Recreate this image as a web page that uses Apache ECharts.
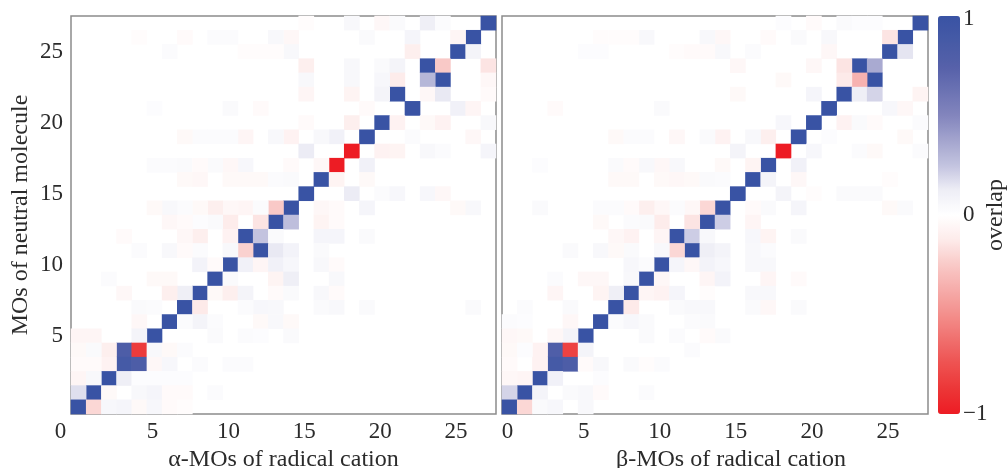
<!DOCTYPE html>
<html>
<head>
<meta charset="utf-8">
<style>
    html, body { margin: 0; padding: 0; background: #fff; }
    #chart { width: 1008px; height: 468px; }
</style>
<script src="https://cdn.jsdelivr.net/npm/echarts@6/dist/echarts.min.js"></script>
</head>
<body>
<div id="chart"></div>
<script>
    // MO index, same for both axes
    const moIndex = ['0','1','2','3','4','5','6','7','8','9','10','11','12','13','14','15','16','17','18','19','20','21','22','23','24','25','26','27']

    // [x, y, overlap], cells that are not listed read as white
    const alphaCells = [
        [27,27,1],[23,27,.12],[24,27,.03],[18,27,.05],[20,27,-.05],[21,27,.04],[15,27,-.02],
        [26,26,1],[25,26,-.06],[22,26,.07],[19,26,.04],[14,26,-.05],[13,26,.05],[9,26,.03],[10,26,.03],[7,26,-.03],[4,26,-.02],
        [25,25,1],[26,25,.08],[22,25,-.1],[14,25,.05],[13,25,-.02],[12,25,-.02],[11,25,-.02],[6,25,.03],
        [23,24,1],[24,24,-.25],[27,24,-.15],[15,24,-.1],[18,24,.05],[20,24,.04],[21,24,.08],
        [24,23,1],[23,23,.3],[21,23,-.12],[20,23,.06],[18,23,.05],[15,23,.05],[27,23,-.05],
        [21,22,1],[20,22,.08],[23,22,-.05],[24,22,.14],[18,22,-.07],[15,22,-.06],[27,22,-.03],
        [22,21,1],[25,21,.1],[26,21,-.06],[19,21,-.03],[12,21,-.03],[10,21,.04],[5,21,.02],
        [20,20,1],[21,20,-.08],[18,20,-.1],[23,20,-.04],[24,20,-.08],[27,20,.05],[15,20,-.03],
        [19,19,1],[17,19,.1],[16,19,.05],[14,19,-.08],[13,19,.05],[11,19,-.06],[10,19,.03],[9,19,.03],[8,19,.03],[7,19,-.04],[22,19,.03],[26,19,-.05],
        [18,18,-1],[15,18,.13],[20,18,-.08],[21,18,-.07],[23,18,.05],[24,18,.03],[27,18,.07],
        [17,17,-1],[16,17,-.05],[19,17,.1],[11,17,.06],[10,17,-.05],[9,17,.04],[7,17,.04],[8,17,-.03],[5,17,.03],[6,17,.03],[14,17,-.03],
        [16,16,1],[17,16,-.07],[19,16,-.04],[7,16,-.04],[8,16,-.05],[10,16,-.04],[11,16,-.04],[12,16,-.04],[13,16,.03],[14,16,.04],
        [15,15,1],[18,15,.13],[20,15,.03],[21,15,.06],[23,15,.06],[24,15,-.05],
        [14,14,1],[13,14,-.25],[11,14,-.06],[12,14,.03],[10,14,-.05],[9,14,-.1],[8,14,-.04],[7,14,.03],[6,14,.05],[5,14,-.04],[16,14,-.05],[17,14,-.03],[19,14,.07],[25,14,-.04],[26,14,.05],
        [13,13,1],[14,13,.27],[12,13,-.15],[10,13,-.12],[9,13,.04],[8,13,.02],[6,13,-.05],[7,13,-.03],[16,13,-.07],[17,13,-.03],
        [11,12,1],[12,12,.25],[13,12,.04],[10,12,-.08],[8,12,-.1],[7,12,-.05],[3,12,-.03],[16,12,.07],[17,12,.07],[19,12,.04],
        [12,11,1],[11,11,-.22],[13,11,.14],[14,11,.09],[10,11,.05],[8,11,.03],[6,11,.05],[7,11,-.03],[4,11,.03],[16,11,.04],
        [10,10,1],[11,10,.1],[12,10,-.06],[13,10,.1],[14,10,.06],[8,10,.09],[9,10,-.03],[16,10,.05],[17,10,-.03],
        [9,9,1],[10,9,.04],[13,9,-.07],[14,9,.12],[5,9,-.04],[6,9,-.04],[17,9,.05],[2,9,.03],
        [8,8,1],[7,8,.12],[6,8,-.1],[9,8,-.04],[10,8,-.1],[11,8,.08],[13,8,-.03],[14,8,.04],[16,8,.05],[3,8,-.05],[17,8,-.03],
        [7,7,1],[8,7,-.13],[12,7,.06],[13,7,.05],[11,7,.03],[4,7,.04],[5,7,.03],[16,7,.04],[17,7,.05],[19,7,.04],[26,7,.04],
        [6,6,1],[8,6,.08],[7,6,.03],[4,6,-.05],[12,6,-.04],[13,6,.05],[14,6,-.04],[9,6,.03],
        [5,5,1],[4,5,.08],[0,5,-.06],[1,5,-.06],[9,5,.04],[14,5,.04],[11,5,.03],[12,5,.02],
        [3,4,.82],[4,4,-.85],[5,4,.05],[2,4,-.1],[0,4,-.04],[1,4,.04],[6,4,-.04],[7,4,.03],
        [3,3,.88],[4,3,.82],[2,3,-.08],[5,3,-.05],[6,3,.06],[0,3,-.03],[1,3,-.03],[8,3,.03],[10,3,.03],[11,3,.03],
        [2,2,1],[3,2,.12],[0,2,-.06],[1,2,.05],[4,2,.02],[5,2,.02],[6,2,.02],[7,2,.02],
        [1,1,1],[0,1,.17],[2,1,-.04],[4,1,.05],[5,1,.07],[6,1,-.03],[7,1,-.03],[9,1,.03],
        [0,0,1],[1,0,-.2],[2,0,.06],[3,0,.07],[4,0,-.04],[5,0,.06],[6,0,-.03],[7,0,-.02]
    ]

    const betaCells = [
        [27,27,1],[22,27,.04],[20,27,-.03],[18,27,.02],[23,27,.02],[24,27,.02],
        [26,26,1],[25,26,-.15],[21,26,.05],[19,26,.04],[17,26,-.03],[14,26,-.05],[13,26,.05],[9,26,.05],[7,26,-.02],[8,26,-.02],[6,26,-.02],
        [25,25,1],[26,25,.15],[21,25,-.05],[14,25,.05],[13,25,-.03],[5,25,.02],[6,25,.02],[11,25,-.02],[12,25,-.03],[16,25,.03],
        [23,24,1],[24,24,.35],[22,24,-.15],[15,24,-.05],[20,24,-.05],
        [24,23,1],[23,23,-.35],[22,23,-.13],[18,23,-.04],
        [22,22,1],[23,22,.12],[24,22,.2],[20,22,.07],[27,22,-.07],[15,22,-.04],
        [21,21,1],[25,21,.06],[26,21,-.05],[10,21,.04],[3,21,-.03],
        [20,20,1],[18,20,.06],[22,20,-.08],[23,20,.04],[24,20,-.03],[27,20,.03],
        [19,19,1],[17,19,-.1],[16,19,.05],[14,19,-.08],[13,19,.04],[11,19,-.05],[7,19,-.04],[8,19,.03],[9,19,.03],[21,19,.02],[26,19,-.04],
        [18,18,-1],[15,18,.08],[20,18,.06],[23,18,.03],[24,18,-.04],[27,18,.03],
        [17,17,1],[16,17,-.07],[19,17,.1],[11,17,.05],[10,17,-.05],[9,17,.05],[7,17,.04],[8,17,-.03],[14,17,-.04],[2,17,.02],
        [16,16,1],[17,16,.08],[19,16,-.05],[7,16,-.04],[8,16,-.04],[10,16,-.04],[11,16,-.05],[12,16,-.04],[13,16,.04],[14,16,.03],[25,16,-.02],
        [15,15,1],[18,15,.08],[22,15,.04],[23,15,.04],[24,15,.04],[20,15,-.02],
        [14,14,1],[13,14,-.2],[12,14,-.05],[11,14,.03],[10,14,-.05],[9,14,-.1],[8,14,-.03],[6,14,.03],[7,14,.03],[2,14,.04],[17,14,.04],[19,14,.07],[16,14,-.03],[25,14,-.04],[26,14,.04],
        [13,13,1],[14,13,.22],[12,13,-.15],[10,13,-.12],[9,13,.04],[8,13,.03],[6,13,-.04],[16,13,-.06],
        [11,12,1],[12,12,.22],[13,12,.05],[10,12,-.06],[8,12,-.08],[7,12,-.05],[16,12,.06],[17,12,-.07],[19,12,.04],
        [12,11,1],[11,11,-.2],[13,11,.12],[14,11,.08],[10,11,.05],[8,11,.04],[6,11,.05],[7,11,-.04],[4,11,.04],[16,11,.05],[17,11,.03],
        [10,10,1],[11,10,.07],[12,10,-.05],[13,10,.09],[14,10,.06],[8,10,.06],[9,10,.03],[16,10,.05],[17,10,.05],
        [9,9,1],[8,9,.05],[10,9,-.05],[13,9,-.06],[14,9,.09],[5,9,-.05],[6,9,-.05],[3,9,.03],[17,9,-.06],[19,9,-.03],
        [8,8,1],[7,8,.12],[6,8,-.07],[9,8,-.06],[10,8,-.08],[11,8,.07],[3,8,-.06],[16,8,.05],[17,8,.05],[13,8,-.02],
        [7,7,1],[8,7,-.13],[11,7,.04],[12,7,.05],[13,7,.05],[4,7,.04],[1,7,.03],[16,7,.04],[17,7,-.05],[19,7,.04],
        [6,6,1],[7,6,.03],[8,6,.06],[9,6,.04],[4,6,-.05],[0,6,.03],[1,6,.02],[13,6,.04],[12,6,.03],
        [5,5,1],[4,5,.08],[3,5,-.05],[0,5,-.05],[1,5,-.04],[9,5,.04],[14,5,.04],[11,5,.03],[13,5,-.03],
        [3,4,.8],[4,4,-.82],[5,4,.08],[2,4,-.08],[0,4,-.04],[1,4,.02],[12,4,.03],
        [3,3,.88],[4,3,.82],[2,3,-.08],[5,3,-.03],[6,3,.05],[8,3,.04],[10,3,.03],[9,3,-.02],[0,3,-.03],
        [2,2,1],[3,2,.1],[1,2,-.06],[0,2,-.05],[6,2,.02],
        [1,1,1],[0,1,.2],[2,1,.08],[4,1,.04],[5,1,.05],[6,1,-.03],[9,1,.03],
        [0,0,1],[1,0,-.2],[2,0,.04],[3,0,.06],[5,0,.05]
    ]

    // even stops from -1 to 1, kept pale around zero like the reference bar
    const overlapColors = [
        '#ed1c24', '#ec3637', '#ee5150', '#f0706e', '#f38f8c', '#f6acaa', '#f9c9c7', '#fdebea', '#ffffff',
        '#eeeef6', '#c3c3df', '#a3a4ce', '#8385bd', '#6b72b3', '#5560a9', '#465aa6', '#3953a4'
    ]

    const serif = 'Liberation Serif'
    const textColor = '#2b2b2b'
    const frameColor = '#8c8c8c'

    function panelX(gridIndex, name, firstPad, namePad) {
        return {
            type: 'category', gridIndex: gridIndex, data: moIndex,
            name: name, nameLocation: 'middle', nameGap: 33,
            nameTextStyle: {fontFamily: serif, fontSize: 24, color: textColor, padding: [0, 0, 0, namePad]},
            axisLine: {show: false}, axisTick: {show: false},
            splitArea: {show: false}, splitLine: {show: false},
            axisLabel: {
                interval: 4, margin: 6, fontFamily: serif, fontSize: 23, color: textColor,
                // the left panel's 0 sits out under the y labels
                formatter: v => v === '0' ? '{first|0}' : '{rest|' + v + '}',
                rich: {
                    first: {fontFamily: serif, fontSize: 23, color: textColor, padding: [0, firstPad, 0, 0]},
                    rest: {fontFamily: serif, fontSize: 23, color: textColor, padding: [0, 4, 0, 0]}
                }
            }
        }
    }

    function panelY(gridIndex, withLabels) {
        const axis = {
            type: 'category', gridIndex: gridIndex, data: moIndex,
            axisLine: {show: false}, axisTick: {show: false},
            splitArea: {show: false}, splitLine: {show: false},
            axisLabel: {
                show: withLabels, interval: 4, margin: 8, fontFamily: serif, fontSize: 23, color: textColor,
                formatter: v => v === '0' ? '' : v
            }
        }
        if (withLabels) {
            axis.name = 'MOs of neutral molecule'
            axis.nameLocation = 'middle'
            axis.nameGap = 38
            axis.nameRotate = 90
            axis.nameTextStyle = {fontFamily: serif, fontSize: 24, color: textColor}
        }
        return axis
    }

    function panelSeries(index, cells) {
        return {
            type: 'heatmap', xAxisIndex: index, yAxisIndex: index, data: cells,
            progressive: 0, silent: true, emphasis: {disabled: true}
        }
    }

    const chart = echarts.init(document.getElementById('chart'))
    chart.setOption({
        animation: false,
        backgroundColor: '#fff',
        grid: [
            {left: 71, top: 16, width: 425, height: 398, outerBoundsMode: 'none', show: true, borderColor: frameColor, borderWidth: 1.5, backgroundColor: '#fff'},
            {left: 502, top: 16, width: 426, height: 398, outerBoundsMode: 'none', show: true, borderColor: frameColor, borderWidth: 1.5, backgroundColor: '#fff'},
            {left: 938, top: 16, width: 22, height: 398, outerBoundsMode: 'none', show: false}
        ],
        xAxis: [
            panelX(0, 'α-MOs of radical cation', 36, 0),
            panelX(1, 'β-MOs of radical cation', 4, 32),
            {type: 'value', gridIndex: 2, show: false, min: 0, max: 1}
        ],
        yAxis: [
            panelY(0, true),
            panelY(1, false),
            {
                type: 'value', gridIndex: 2, position: 'right', min: -1, max: 1, interval: 1,
                name: 'overlap', nameLocation: 'middle', nameGap: 24, nameRotate: 90, nameMoveOverlap: false,
                nameTextStyle: {fontFamily: serif, fontSize: 24, color: textColor},
                axisLine: {show: false}, axisTick: {show: false}, splitLine: {show: false},
                axisLabel: {
                    margin: 3, fontFamily: serif, fontSize: 23, color: textColor,
                    formatter: v => v === 1 ? '{top|1}' : (v < 0 ? '−' + Math.abs(v) : String(v)),
                    rich: {top: {fontFamily: serif, fontSize: 23, color: textColor, padding: [6, 0, 0, 0]}}
                }
            }
        ],
        visualMap: {
            type: 'continuous', min: -1, max: 1, seriesIndex: [0, 1], dimension: 2,
            left: 938, top: 16, itemWidth: 22, itemHeight: 398, borderRadius: 0,
            calculable: false, realtime: false, showLabel: false, text: null, padding: 0,
            inRange: {color: overlapColors}
        },
        series: [panelSeries(0, alphaCells), panelSeries(1, betaCells)]
    })
</script>
</body>
</html>
